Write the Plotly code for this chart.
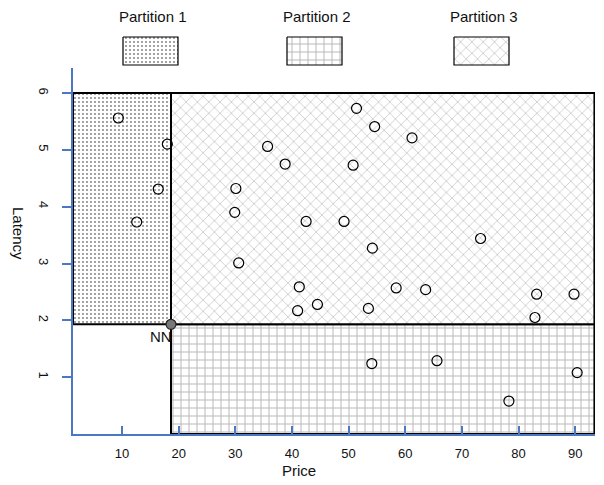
import plotly.graph_objects as go

# ---- data ----
p1_x = [9.35, 18.0, 16.4, 12.6]
p1_y = [5.56, 5.10, 4.31, 3.73]

p3_x = [51.4, 54.6, 61.2, 35.7, 38.8, 50.8, 30.1, 29.9, 42.5, 49.2,
        54.2, 30.6, 41.3, 58.4, 63.6, 44.5, 41.0, 53.5, 73.3, 83.2, 89.8, 82.9]
p3_y = [5.73, 5.41, 5.21, 5.06, 4.75, 4.73, 4.32, 3.90, 3.74, 3.74,
        3.27, 3.01, 2.59, 2.57, 2.54, 2.28, 2.17, 2.21, 3.44, 2.46, 2.46, 2.05]

p2_x = [54.1, 65.6, 78.3, 90.35]
p2_y = [1.24, 1.29, 0.58, 1.08]

nn_x, nn_y = 18.65, 1.93
x_lo, x_hi = 1.35, 93.4
y_lo, y_hi = 0.0, 6.0

x_ticks = [10, 20, 30, 40, 50, 60, 70, 80, 90]
y_ticks = [1, 2, 3, 4, 5, 6]
partition_names = ["Partition 1", "Partition 2", "Partition 3"]

# ---- style / layout (page body has an 8px margin) ----
OFF = 8
W, H = 604 - OFF, 485 - OFF
AX_BLUE = "#4a78c2"
FONT = "Liberation Sans, Arial, sans-serif"
patterns = [
    dict(shape=".", size=4, solidity=0.1, fgcolor="#111111", bgcolor="white", fillmode="replace"),
    dict(shape="+", size=8, solidity=0.22, fgcolor="#b4b4b4", bgcolor="white", fillmode="replace"),
    dict(shape="x", size=8, solidity=0.16, fgcolor="#bdbdbd", bgcolor="white", fillmode="replace"),
]


def sx(v):
    return v - OFF


def sy(v):
    return v - OFF


fig = go.Figure()

# partitions
rects = [
    ([x_lo, nn_x, nn_x, x_lo, x_lo], [nn_y, nn_y, y_hi, y_hi, nn_y]),
    ([nn_x, x_hi, x_hi, nn_x, nn_x], [y_lo, y_lo, nn_y, nn_y, y_lo]),
    ([nn_x, x_hi, x_hi, nn_x, nn_x], [nn_y, nn_y, y_hi, y_hi, nn_y]),
]
for (rx, ry), pat in zip(rects, patterns):
    fig.add_trace(go.Scatter(x=rx, y=ry, mode="lines", fill="toself",
                             fillpattern=pat, fillcolor="white",
                             line=dict(color="black", width=2),
                             showlegend=False, hoverinfo="skip"))

# points
for px, py in [(p1_x, p1_y), (p3_x, p3_y), (p2_x, p2_y)]:
    fig.add_trace(go.Scatter(x=px, y=py, mode="markers",
                             marker=dict(size=10, color="rgba(0,0,0,0)",
                                         line=dict(color="black", width=1.2)),
                             showlegend=False))

fig.add_trace(go.Scatter(x=[nn_x], y=[nn_y], mode="markers",
                         marker=dict(size=10, color="#777777",
                                     line=dict(color="#222222", width=1.2)),
                         showlegend=False, cliponaxis=False))

# legend boxes (pixel coordinates on overlay axes)
box_x0 = [123, 287, 454]
box_w, box_y0, box_y1 = 55, 37, 65
for i, (name, pat) in enumerate(zip(partition_names, patterns)):
    x0 = sx(box_x0[i])
    fig.add_trace(go.Scatter(x=[x0, x0 + box_w, x0 + box_w, x0, x0],
                             y=[sy(box_y0), sy(box_y0), sy(box_y1), sy(box_y1), sy(box_y0)],
                             xaxis="x2", yaxis="y2", mode="lines", fill="toself",
                             fillpattern=pat, fillcolor="white",
                             line=dict(color="black", width=1.2),
                             showlegend=False, hoverinfo="skip"))
    fig.add_annotation(x=x0 + box_w / 2 + 2, y=sy(16), xref="x2", yref="y2",
                       text=name, showarrow=False,
                       font=dict(size=15, color="#111111", family=FONT))

fig.add_annotation(x=nn_x, y=nn_y, xref="x", yref="y", text="NN",
                   showarrow=False, xanchor="right", yanchor="top",
                   xshift=3, yshift=-2,
                   font=dict(size=15, color="#111111", family=FONT))

fig.add_annotation(x=sx(299), y=sy(470), xref="x2", yref="y2", text="Price",
                   showarrow=False, font=dict(size=15, color="#111111", family=FONT))
fig.add_annotation(x=sx(19), y=sy(233), xref="x2", yref="y2", text="Latency",
                   showarrow=False, textangle=90, borderpad=0,
                   font=dict(size=15, color="#111111", family=FONT))

fig.update_layout(
    width=W, height=H,
    margin=dict(l=0, r=0, t=0, b=0),
    paper_bgcolor="white", plot_bgcolor="rgba(0,0,0,0)",
    font=dict(family=FONT, size=13, color="#111111"),
    xaxis=dict(domain=[sx(73) / W, sx(595) / W], range=[x_lo, 93.5], anchor="y",
               showgrid=False, zeroline=False, showline=True,
               linecolor=AX_BLUE, linewidth=1.6,
               tickvals=x_ticks, ticks="inside", ticklen=8, tickwidth=1.6,
               tickcolor=AX_BLUE, ticklabelstandoff=7,
               tickfont=dict(size=13, family=FONT, color="#111111")),
    yaxis=dict(domain=[(H - sy(434)) / H, (H - sy(68)) / H], range=[0, 6.44], anchor="x",
               showgrid=False, zeroline=False, showline=True,
               linecolor=AX_BLUE, linewidth=1.6,
               tickvals=y_ticks, ticks="outside", ticklen=9, tickwidth=1.6,
               tickcolor=AX_BLUE, tickangle=90, ticklabelstandoff=8,
               tickfont=dict(size=13, family=FONT, color="#111111")),
    xaxis2=dict(domain=[0, 1], range=[0, W], anchor="y2", visible=False, fixedrange=True),
    yaxis2=dict(domain=[0, 1], range=[H, 0], anchor="x2", visible=False, fixedrange=True),
)

fig.write_html("out.html")
